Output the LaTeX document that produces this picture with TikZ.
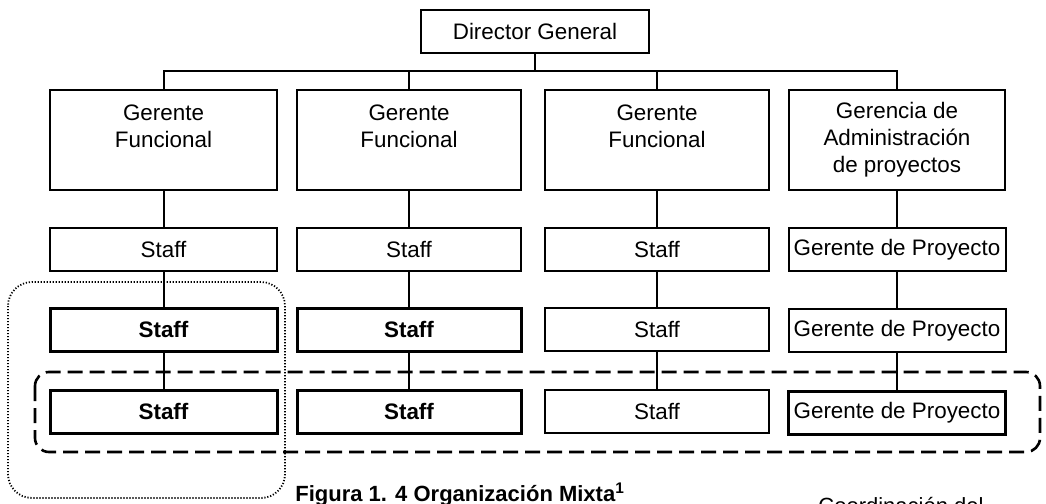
\documentclass[tikz,border=0pt]{standalone}
\usepackage{fontspec}
\setmainfont{Liberation Sans}
\begin{document}
\begin{tikzpicture}[x=0.5pt,y=-0.5pt,
  box/.style={draw, line width=1pt, rectangle, inner sep=0pt, align=center,
    font=\fontsize{11.2}{13.5}\selectfont},
  boldbox/.style={box, line width=1.5pt, font=\fontsize{11.2}{13.5}\selectfont\bfseries},
  mgr/.style={box, minimum height=50pt},
  rowbox/.style={box, minimum height=21.5pt},
  boldrow/.style={boldbox, minimum height=21.5pt},
  heavyrow/.style={rowbox, line width=1.5pt},
  link/.style={line width=1pt},
  groupdash/.style={line width=1.3pt, dash pattern=on 7.5pt off 3.5pt, rounded corners=7pt},
  groupdot/.style={line width=0.9pt, dash pattern=on 0.6pt off 0.9pt, rounded corners=12pt},
  caption/.style={anchor=base west, inner sep=0pt}]
\useasboundingbox (0,0) rectangle (1046,504);

% top level
\node[box, minimum width=114pt, minimum height=21.5pt] (dir) at (535,31.5) {Director General};

% second level
\node[mgr, minimum width=113.5pt] (g1) at (163.5,140) {Gerente\\Funcional\\\mbox{}};
\node[mgr, minimum width=112pt] (g2) at (409,140) {Gerente\\Funcional\\\mbox{}};
\node[mgr, minimum width=112pt] (g3) at (657,140) {Gerente\\Funcional\\\mbox{}};
\node[mgr, minimum width=108pt] (g4) at (897,140) {Gerencia de\\Administración\\de proyectos};

% staff rows
\node[rowbox, minimum width=113.5pt] (a1) at (163.5,249.5) {Staff};
\node[boldrow, minimum width=113.5pt] (a2) at (163.5,329.5) {Staff};
\node[boldrow, minimum width=113.5pt] (a3) at (163.5,411.5) {Staff};

\node[rowbox, minimum width=112pt] (b1) at (409,249.5) {Staff};
\node[boldrow, minimum width=112pt] (b2) at (409,329.5) {Staff};
\node[boldrow, minimum width=112pt] (b3) at (409,411.5) {Staff};

\node[rowbox, minimum width=112pt] (c1) at (657,249.5) {Staff};
\node[rowbox, minimum width=112pt] (c2) at (657,329.5) {Staff};
\node[rowbox, minimum width=112pt] (c3) at (657,411.5) {Staff};

\node[rowbox, minimum width=108.5pt] (d1) at (897,249.5) {Gerente de Proyecto};
\node[rowbox, minimum width=108.5pt] (d2) at (897,330.5) {Gerente de Proyecto};
\node[heavyrow, minimum width=108.5pt] (d3) at (897,412.5) {Gerente de Proyecto};

% connectors
\coordinate (bar) at (535,71);
\draw[link] (dir.south) -- (bar);
\draw[link] (g1.north) |- (bar) -| (g4.north);
\draw[link] (g2.north) -- (g2.north |- bar);
\draw[link] (g3.north) -- (g3.north |- bar);

\foreach \c in {a,b,c,d}{
  \draw[link] (\c1.north |- g1.south) -- (\c1.north);
  \draw[link] (\c1.south) -- (\c2.north);
  \draw[link] (\c2.south) -- (\c3.north);
}

% groupings
\draw[groupdot] (8,282) rectangle (285,498);
\draw[groupdash] (35,372) rectangle (1040,452);

% captions
\node[caption, font=\fontsize{11}{13}\selectfont\bfseries] (cap) at (295,501)
  {Figura 1. 4 Organización Mixta\textsuperscript{1}};
\node[caption, font=\fontsize{11}{13}\selectfont] (coord) at (818,513) {Coordinación del};
\end{tikzpicture}
\end{document}
